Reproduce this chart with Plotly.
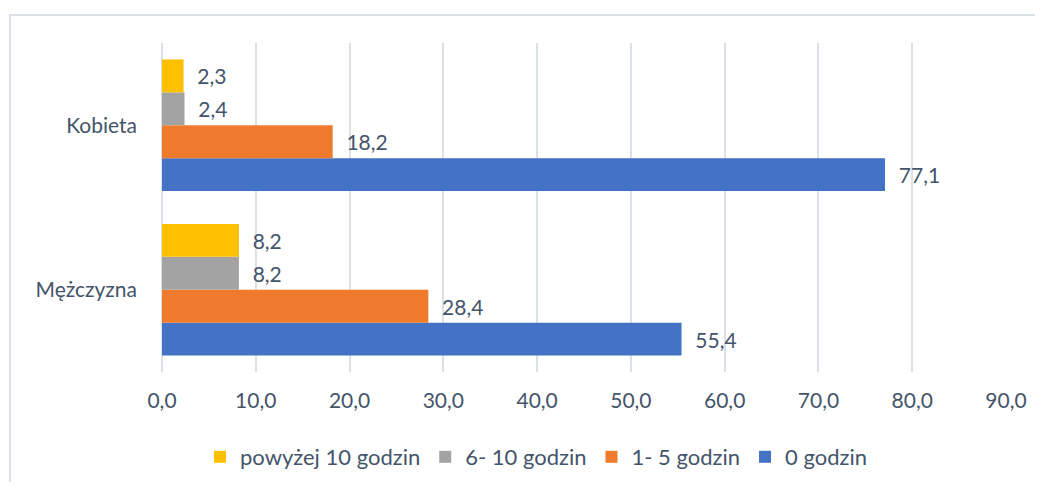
import plotly.graph_objects as go

categories = ["Mężczyzna", "Kobieta"]
series_names = ["0 godzin", "1- 5 godzin", "6- 10 godzin", "powyżej 10 godzin"]
values_0 = [55.4, 77.1]
values_1_5 = [28.4, 18.2]
values_6_10 = [8.2, 2.4]
values_10plus = [8.2, 2.3]
x_ticks = [0, 10, 20, 30, 40, 50, 60, 70, 80, 90]

colors = ["#4472C4", "#F07B2C", "#A3A3A3", "#FFC000"]
series_values = [values_0, values_1_5, values_6_10, values_10plus]

FONT = "Lato"
TXT = "#44546A"

fig = go.Figure()
for name, vals, col in zip(series_names, series_values, colors):
    fig.add_trace(go.Bar(
        y=categories, x=vals, name=name, orientation="h",
        marker=dict(color=col, line=dict(width=0)),
        texttemplate="\u00a0\u00a0%{x:.1f}", textposition="outside",
        textfont=dict(family=FONT, size=21, color=TXT),
        cliponaxis=False, constraintext="none",
    ))

# page body has an 8px margin: figure origin is at (8, 8) of the window
OFF = 8
W, H = 1043 - 2 * OFF, 490 - 2 * OFF
L, T = 162 - OFF, 43 - OFF
R = W - (1006 - OFF)
B = H - (372 - OFF)
pw, ph = W - L - R, H - T - B

def px(x):
    return (x - OFF - L) / pw

def py(y):
    return (H - B - (y - OFF)) / ph

fig.add_shape(type="rect", xref="paper", yref="paper",
              x0=px(10), x1=px(1080), y0=py(15), y1=py(540),
              line=dict(color="#DCE1E8", width=2), fillcolor="rgba(0,0,0,0)",
              layer="below")

fig.update_layout(
    width=W, height=H,
    margin=dict(l=L, r=R, t=T, b=B, pad=0, autoexpand=False),
    paper_bgcolor="white", plot_bgcolor="white",
    separators=", ",
    barmode="group", bargap=0.2, bargroupgap=0,
    font=dict(family=FONT, size=21, color=TXT),
    showlegend=True,
    legend=dict(orientation="h", traceorder="reversed",
                x=px(536), xanchor="center", y=py(457), yanchor="middle",
                font=dict(family=FONT, size=22, color=TXT),
                itemwidth=30, tracegroupgap=0, bgcolor="rgba(0,0,0,0)"),
    xaxis=dict(range=[0, 90], tickvals=x_ticks, tickformat=".1f",
               showgrid=True, gridcolor="#DCE1E8", gridwidth=2,
               zeroline=True, zerolinecolor="#DCE1E8", zerolinewidth=2,
               showline=False, ticks="", ticklabelstandoff=14, automargin=False,
               tickfont=dict(family=FONT, size=21, color=TXT), fixedrange=True),
    yaxis=dict(categoryorder="array", categoryarray=categories,
               range=[-0.5, 1.5], showgrid=False, zeroline=False, showline=False,
               ticks="", ticklabelstandoff=24, automargin=False,
               tickfont=dict(family=FONT, size=21, color=TXT), fixedrange=True),
)

fig.write_html("out.html")
